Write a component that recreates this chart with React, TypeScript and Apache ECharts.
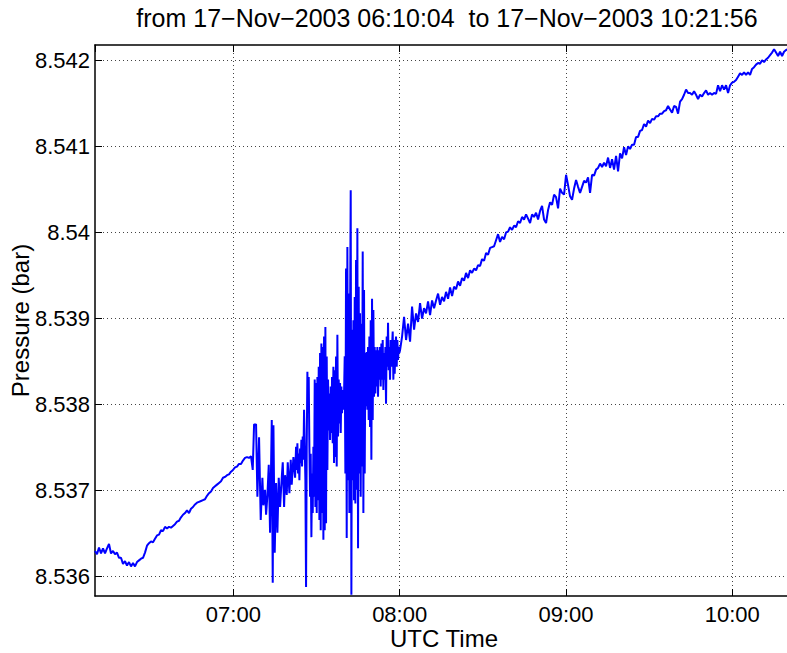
import React, { useEffect, useRef } from 'react';
import * as echarts from 'echarts';

const TITLE = 'from 17\u2212Nov\u22122003 06:10:04  to 17\u2212Nov\u22122003 10:21:56';
const X_LABEL = 'UTC Time';
const Y_LABEL = 'Pressure (bar)';
const FONT = '"Liberation Sans", Arial, Helvetica, sans-serif';

// time axis in seconds since midnight
const T_START = 22204; // 06:10:04
const T_END = 37316; // 10:21:56
const HOUR = 3600;
const SEVEN_OCLOCK = 25200;
const P_MIN = 8.535776;
const P_MAX = 8.542178;
const P_TICK = 0.001;

// early, quiet stretch: 06:10:04 onwards, one sample every 43.3 s
const earlyStart = 22204;
const earlyStep = 43.3;
const earlyPressure = [
  8.53630, 8.53626, 8.53634, 8.53627, 8.53633, 8.53627, 8.53633, 8.53638, 8.53627, 8.53630,
  8.53626, 8.53628, 8.53622, 8.53622, 8.53615, 8.53618, 8.53613, 8.53617, 8.53612, 8.53616,
  8.53612, 8.53617, 8.53619, 8.53621, 8.53622, 8.53628, 8.53636, 8.53639, 8.53641, 8.53640,
  8.53644, 8.53648, 8.53649, 8.53654, 8.53653, 8.53658, 8.53656, 8.53658, 8.53657, 8.53659,
  8.53661, 8.53664, 8.53665, 8.53669, 8.53672, 8.53674, 8.53677, 8.53674, 8.53679, 8.53681,
  8.53684, 8.53686, 8.53687, 8.53688, 8.53689, 8.53690, 8.53694, 8.53697, 8.53699, 8.53703,
  8.53705, 8.53707, 8.53709, 8.53711, 8.53715, 8.53716, 8.53718, 8.53719, 8.53722, 8.53724,
  8.53727, 8.53728, 8.53731, 8.53731, 8.53735, 8.53738, 8.53739, 8.53738, 8.53740,
];

// onset of the disturbance: seconds after 07:00:00 and pressure
const onsetOffsets = [
  419, 448, 491, 520, 556, 592, 628, 650, 686, 708, 737, 766, 794, 831, 852, 867,
  895, 924, 953, 982, 1011, 1047, 1069, 1098, 1119, 1155, 1177, 1213, 1242, 1263, 1300, 1336,
];
const onsetPressure = [
  8.53724, 8.53777, 8.53777, 8.53693, 8.53762, 8.53666, 8.53715, 8.53683, 8.53701, 8.53672, 8.53695, 8.53730, 8.53651, 8.53782, 8.53593, 8.53776,
  8.53628, 8.53709, 8.53651, 8.53715, 8.53681, 8.53715, 8.53733, 8.53681, 8.53718, 8.53695, 8.53733, 8.53697, 8.53736, 8.53707, 8.53739, 8.53715,
];

// strongest disturbance: from 07:22:37, one sample every 14.43 s
const burstStart = 26557;
const burstStep = 14.43;
const burstPressure = [
  8.53751, 8.53724, 8.53755, 8.53720, 8.53743, 8.53712, 8.53749, 8.53732, 8.53759, 8.53728,
  8.53763, 8.53736, 8.53794, 8.53751, 8.53712, 8.53588, 8.53751, 8.53838, 8.53790, 8.53832,
  8.53751, 8.53693, 8.53743, 8.53646, 8.53720, 8.53674, 8.53751, 8.53693, 8.53829, 8.53681,
  8.53825, 8.53674, 8.53832, 8.53689, 8.53844, 8.53666, 8.53860, 8.53654, 8.53871, 8.53674,
  8.53867, 8.53643, 8.53879, 8.53654, 8.53890, 8.53662, 8.53856, 8.53724, 8.53829, 8.53770,
  8.53813, 8.53759, 8.53821, 8.53767, 8.53832, 8.53755, 8.53844, 8.53732, 8.53840, 8.53739,
  8.53856, 8.53728, 8.53881, 8.53763, 8.53829, 8.53778, 8.53825, 8.53767, 8.53821, 8.53790,
  8.53817, 8.53794, 8.53813, 8.53856, 8.53720, 8.53958, 8.53645, 8.53983, 8.53712, 8.53929,
  8.53674, 8.53898, 8.54049, 8.53579, 8.53887, 8.53712, 8.53898, 8.53689, 8.53925, 8.53685,
  8.53968, 8.53701, 8.54005, 8.53633, 8.53937, 8.53720, 8.53906, 8.53693, 8.53894, 8.53728,
  8.53978, 8.53674, 8.53933, 8.53720, 8.53860, 8.53798, 8.53861, 8.53794, 8.53867, 8.53782,
  8.53879, 8.53774, 8.53898, 8.53736, 8.53923, 8.53782, 8.53910, 8.53809, 8.53867, 8.53813,
  8.53863, 8.53821, 8.53867, 8.53809, 8.53863, 8.53829, 8.53867, 8.53821, 8.53871, 8.53829,
  8.53875, 8.53817, 8.53860, 8.53829, 8.53867, 8.53801, 8.53879, 8.53844, 8.53895, 8.53840,
  8.53867, 8.53829, 8.53875, 8.53844, 8.53867, 8.53885, 8.53829, 8.53875, 8.53836, 8.53867,
  8.53879, 8.53844, 8.53875, 8.53852, 8.53867, 8.53860, 8.53863,
];

// late, steady rise: from 08:00:52, one sample every 43.3 s
const lateStart = 28852;
const lateStep = 43.3;
const latePressure = [
  8.53879, 8.53902, 8.53875, 8.53894, 8.53873, 8.53914, 8.53887, 8.53906, 8.53896, 8.53918,
  8.53900, 8.53912, 8.53906, 8.53920, 8.53904, 8.53921, 8.53912, 8.53921, 8.53929, 8.53916,
  8.53925, 8.53920, 8.53931, 8.53923, 8.53936, 8.53926, 8.53937, 8.53934, 8.53943, 8.53938,
  8.53947, 8.53944, 8.53953, 8.53947, 8.53956, 8.53953, 8.53958, 8.53956, 8.53962, 8.53961,
  8.53969, 8.53967, 8.53976, 8.53974, 8.53982, 8.53983, 8.53984, 8.53991, 8.53998, 8.53989,
  8.53995, 8.53992, 8.54000, 8.54001, 8.54006, 8.54003, 8.54008, 8.54006, 8.54013, 8.54011,
  8.54018, 8.54015, 8.54021, 8.54016, 8.54011, 8.54021, 8.54018, 8.54023, 8.54015, 8.54025,
  8.54031, 8.54015, 8.54011, 8.54026, 8.54035, 8.54032, 8.54044, 8.54041, 8.54028, 8.54051,
  8.54046, 8.54044, 8.54067, 8.54055, 8.54042, 8.54038, 8.54051, 8.54061, 8.54053, 8.54046,
  8.54053, 8.54060, 8.54058, 8.54064, 8.54046, 8.54067, 8.54066, 8.54073, 8.54075, 8.54080,
  8.54076, 8.54081, 8.54077, 8.54087, 8.54075, 8.54085, 8.54073, 8.54089, 8.54071, 8.54092,
  8.54086, 8.54099, 8.54090, 8.54100, 8.54097, 8.54102, 8.54102, 8.54111, 8.54111, 8.54118,
  8.54119, 8.54126, 8.54123, 8.54130, 8.54127, 8.54132, 8.54131, 8.54135, 8.54135, 8.54138,
  8.54138, 8.54141, 8.54142, 8.54147, 8.54143, 8.54139, 8.54147, 8.54146, 8.54138, 8.54152,
  8.54155, 8.54160, 8.54166, 8.54162, 8.54162, 8.54160, 8.54164, 8.54160, 8.54155, 8.54160,
  8.54158, 8.54162, 8.54165, 8.54160, 8.54162, 8.54160, 8.54162, 8.54161, 8.54171, 8.54164,
  8.54171, 8.54166, 8.54171, 8.54162, 8.54171, 8.54174, 8.54175, 8.54177, 8.54181, 8.54185,
  8.54183, 8.54186, 8.54183, 8.54186, 8.54183, 8.54190, 8.54192, 8.54195, 8.54197, 8.54196,
  8.54200, 8.54198, 8.54201, 8.54203, 8.54206, 8.54209, 8.54213, 8.54209, 8.54205, 8.54210,
  8.54205, 8.54210, 8.54212, 8.54213, 8.54211, 8.54214,
];

const pad2 = (n: number) => (n < 10 ? '0' + n : String(n));

export default function App() {
  const ref = useRef<HTMLDivElement>(null);

  useEffect(() => {
    if (!ref.current) return;
    const chart = echarts.init(ref.current, null, { renderer: 'svg' });

    const data: [number, number][] = [];
    earlyPressure.forEach((p, i) => data.push([earlyStart + i * earlyStep, p]));
    onsetOffsets.forEach((s, i) => data.push([SEVEN_OCLOCK + s, onsetPressure[i]]));
    burstPressure.forEach((p, i) => data.push([burstStart + i * burstStep, p]));
    latePressure.forEach((p, i) => data.push([lateStart + i * lateStep, p]));

    const axisLineStyle = { color: '#000', width: 1.5 };
    const tickStyle = { show: true, inside: true, length: 7, lineStyle: { color: '#000', width: 1 } };
    const gridStyle = { show: true, showMinLine: false, showMaxLine: false, lineStyle: { color: '#444', width: 1, type: [1, 3] } };

    const xFmt = (v: number) => {
      if (Math.abs(v % HOUR) > 1e-6) return '';
      return pad2(Math.round(v / HOUR)) + ':00';
    };
    const yFmt = (v: number) => {
      const k = Math.round(v / P_TICK);
      if (Math.abs(v / P_TICK - k) > 1e-4) return '';
      return String(parseFloat((k * P_TICK).toFixed(3)));
    };

    chart.setOption({
      animation: false,
      backgroundColor: '#fff',
      textStyle: { fontFamily: FONT },
      graphic: [
        {
          type: 'text',
          x: 447,
          y: 18,
          style: {
            text: TITLE,
            fontFamily: FONT,
            fontSize: 25,
            fill: '#000',
            textAlign: 'center',
            textVerticalAlign: 'middle',
          },
        },
      ],
      grid: { left: 95, top: 45, width: 698, height: 551, containLabel: false, outerBoundsMode: 'none' },
      xAxis: [
        {
          type: 'value',
          position: 'bottom',
          min: T_START,
          max: T_END,
          minInterval: HOUR,
          maxInterval: HOUR,
          axisLine: { show: true, lineStyle: axisLineStyle },
          axisTick: tickStyle,
          axisLabel: {
            formatter: xFmt,
            showMinLabel: false,
            showMaxLabel: false,
            fontSize: 22,
            color: '#000',
            fontFamily: FONT,
            margin: 7,
          },
          splitLine: gridStyle,
          name: X_LABEL,
          nameLocation: 'middle',
          nameGap: 30,
          nameMoveOverlap: false,
          nameTextStyle: { fontSize: 24, color: '#000', fontFamily: FONT },
        },
        {
          type: 'value',
          position: 'top',
          min: T_START,
          max: T_END,
          minInterval: HOUR,
          maxInterval: HOUR,
          axisLine: { show: true, lineStyle: axisLineStyle },
          axisTick: tickStyle,
          axisLabel: { show: false },
          splitLine: { show: false },
        },
      ],
      yAxis: [
        {
          type: 'value',
          min: P_MIN,
          max: P_MAX,
          minInterval: P_TICK,
          maxInterval: P_TICK,
          axisLine: { show: true, lineStyle: axisLineStyle },
          axisTick: tickStyle,
          axisLabel: {
            formatter: yFmt,
            showMinLabel: false,
            showMaxLabel: false,
            fontSize: 22,
            color: '#000',
            fontFamily: FONT,
            margin: 5,
          },
          splitLine: gridStyle,
          name: Y_LABEL,
          nameLocation: 'middle',
          nameGap: 63,
          nameMoveOverlap: false,
          nameTextStyle: { fontSize: 24, color: '#000', fontFamily: FONT },
        },
      ],
      series: [
        {
          type: 'line',
          xAxisIndex: 0,
          yAxisIndex: 0,
          data,
          showSymbol: false,
          symbol: 'none',
          lineStyle: { color: '#0000ff', width: 2 },
          clip: true,
        },
      ],
    });

    return () => chart.dispose();
  }, []);

  return (
    <div
      ref={ref}
      style={{ position: 'fixed', left: 0, top: 0, width: 787, height: 653, background: '#fff' }}
    />
  );
}
